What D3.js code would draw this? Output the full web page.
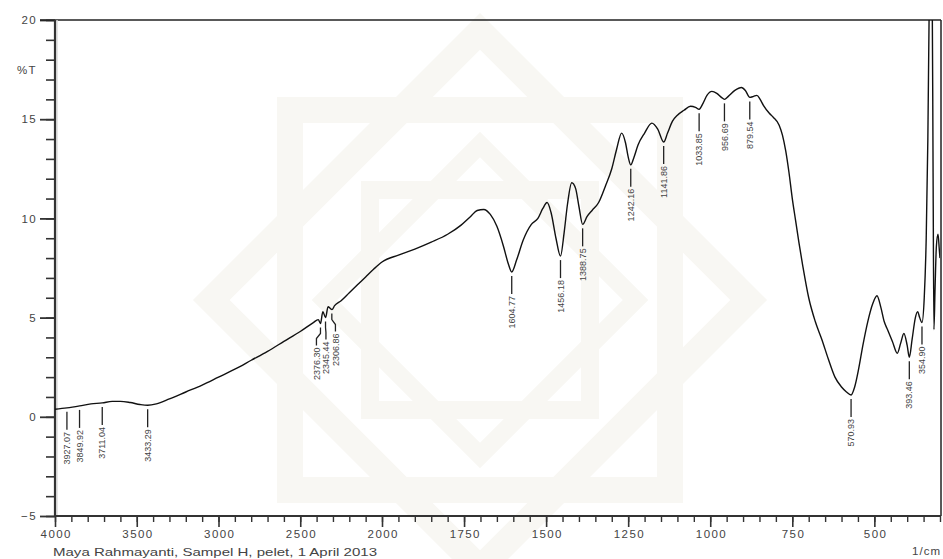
<!DOCTYPE html>
<html>
<head>
<meta charset="utf-8">
<script src="https://cdn.jsdelivr.net/npm/d3@7"></script>
<style>
  body { margin: 0; background: #fff; }
  svg { display: block; font-family: "Liberation Sans", Arial, sans-serif; }
</style>
</head>
<body>
<script>
// spectrum (wavenumber 1/cm, transmittance %T)
var wavenumber = [4000, 3927, 3849, 3780, 3711, 3650, 3600, 3540, 3480, 3433, 3380, 3300, 3200, 3100, 3000,
  2900, 2800, 2700, 2600, 2500, 2420, 2390, 2376, 2362, 2345, 2330, 2315, 2306, 2290, 2250, 2200, 2150,
  2100, 2050, 2000, 1950, 1900, 1850, 1800, 1760, 1730, 1710, 1690, 1670, 1650, 1630, 1615, 1604.77,
  1590, 1570, 1545, 1525, 1510, 1497, 1485, 1470, 1456.18, 1445, 1435, 1422, 1410, 1400, 1388.75, 1375,
  1360, 1340, 1320, 1300, 1285, 1270, 1258, 1250, 1242.16, 1232, 1220, 1200, 1178, 1160, 1141.86, 1130,
  1115, 1100, 1080, 1060, 1045, 1033.85, 1022, 1010, 995, 980, 966, 956.69, 945, 925, 905, 893, 879.54,
  868, 858, 848, 838, 820, 808, 790, 780, 770, 760, 750, 740, 730, 718, 700, 680, 660, 640, 620, 600,
  585, 570.93, 560, 548, 535, 520, 505, 492, 480, 470, 460, 445, 430, 420, 410, 400, 393.46, 385, 375,
  368, 362, 354.9, 348, 342, 337, 333, 328, 324, 321, 318.5, 315, 311, 306, 302, 300];
var transmittance = [0.38, 0.45, 0.55, 0.65, 0.7, 0.78, 0.78, 0.72, 0.62, 0.58, 0.65, 0.9, 1.25, 1.6, 2.0,
  2.4, 2.85, 3.3, 3.8, 4.3, 4.75, 4.9, 4.7, 5.3, 5.0, 5.55, 5.45, 5.4, 5.6, 5.85, 6.25, 6.65,
  7.05, 7.45, 7.8, 8.15, 8.45, 8.8, 9.2, 9.65, 10.1, 10.4, 10.45, 10.2, 9.6, 8.6, 7.7, 7.3,
  7.9, 8.9, 9.7, 10.0, 10.5, 10.8, 10.3, 9.0, 8.1, 9.3, 10.7, 11.8, 11.5, 10.6, 9.7, 10.1,
  10.4, 10.8, 11.6, 12.5, 13.5, 14.3, 13.8, 13.1, 12.7, 13.1, 13.7, 14.3, 14.8, 14.5, 13.85, 14.3,
  14.9, 15.2, 15.45, 15.65, 15.6, 15.5, 15.8, 16.2, 16.4, 16.3, 16.1, 16.0, 16.15, 16.45, 16.6, 16.45, 16.1,
  16.15, 16.2, 16.0, 15.7, 15.3, 15.1, 14.7, 14.2, 13.4, 12.3, 11.0, 9.9, 8.8, 7.6, 6.0, 4.8, 3.9, 2.9, 2.0, 1.5,
  1.25, 1.1, 1.5, 2.4, 3.6, 4.8, 5.7, 6.1, 5.5, 4.8, 4.4, 3.8, 3.2, 3.7, 4.2, 3.6, 3.0, 3.9, 5.0,
  5.3, 5.0, 4.75, 6.0, 9.0, 14.0, 20.5, 24, 22, 12, 4.4, 6.5, 8.6, 9.2, 8.4, 8.0];

// peak labels
var peaks = [3927.07, 3849.92, 3711.04, 3433.29, 2376.30, 2345.44, 2306.86, 1604.77, 1456.18, 1388.75,
  1242.16, 1141.86, 1033.85, 956.69, 879.54, 570.93, 393.46, 354.90];

// axis ticks
var xMajor = [4000, 3500, 3000, 2500, 2000, 1750, 1500, 1250, 1000, 750, 500];
var yMajor = [-5, 0, 5, 10, 15, 20];

var W = 943, H = 559;
var plotLeft = 55, plotRight = 940, plotTop = 20, plotBottom = 516;

var svg = d3.select("body").append("svg").attr("width", W).attr("height", H);

// x axis is expanded 2x below 2000 1/cm
var x = d3.scaleLinear().domain([4000, 2000, 300]).range([plotLeft, 382, plotRight]);
var y = d3.scaleLinear().domain([-5, 20]).range([plotBottom, plotTop]);

//faint watermark in the background
var wm = svg.append("g").attr("transform", "translate(480,300)")
  .style("fill", "none").style("stroke", "#f8f7f3");
[0, 45].forEach(function(a) {
  wm.append("rect").attr("x", -190).attr("y", -190).attr("width", 380).attr("height", 380)
    .attr("transform", "rotate(" + a + ")").style("stroke-width", 26);
  wm.append("rect").attr("x", -110).attr("y", -110).attr("width", 220).attr("height", 220)
    .attr("transform", "rotate(" + a + ")").style("stroke-width", 18);
});

//minor ticks
var xMinor = d3.range(4000, 2000, -100).concat(d3.range(2000, 299, -50));
svg.append("g").attr("transform", "translate(0," + plotBottom + ")")
  .call(d3.axisBottom(x).tickValues(xMinor).tickSize(6).tickSizeOuter(0).tickFormat(""))
  .call(function(g) { g.select(".domain").remove(); })
  .selectAll("line").style("stroke", "#333").style("stroke-width", 1.4);

svg.append("g").attr("transform", "translate(" + plotLeft + ",0)")
  .call(d3.axisLeft(y).tickValues(d3.range(-5, 21, 1)).tickSize(9).tickSizeOuter(0).tickFormat(""))
  .call(function(g) { g.select(".domain").remove(); })
  .selectAll("line").style("stroke", "#333").style("stroke-width", 1.6);

//major ticks with labels
var gx = svg.append("g").attr("transform", "translate(0," + plotBottom + ")")
  .call(d3.axisBottom(x).tickValues(xMajor).tickSize(11).tickSizeOuter(0).tickPadding(3).tickFormat(d3.format("d")));
gx.select(".domain").remove();
gx.selectAll("line").style("stroke", "#333").style("stroke-width", 1.6);
gx.selectAll("text").attr("dx", "0.7px").style("font-size", "11.5px").style("fill", "#444").style("letter-spacing", "1.4px");

var gy = svg.append("g").attr("transform", "translate(" + plotLeft + ",0)")
  .call(d3.axisLeft(y).tickValues(yMajor).tickSize(15).tickSizeOuter(0).tickPadding(3));
gy.select(".domain").remove();
gy.selectAll("line").style("stroke", "#333").style("stroke-width", 1.8);
gy.selectAll("text").style("font-size", "11.5px").style("fill", "#444").style("letter-spacing", "1.4px");

//frame
svg.append("line").attr("x1", 40).attr("x2", plotRight + 1).attr("y1", plotTop).attr("y2", plotTop)
  .style("stroke", "#222").style("stroke-width", 1.5);
svg.append("line").attr("x1", plotRight + 1).attr("x2", plotRight + 1).attr("y1", plotTop).attr("y2", plotBottom)
  .style("stroke", "#222").style("stroke-width", 1.5);
svg.append("line").attr("x1", plotLeft + 2).attr("x2", plotLeft + 2).attr("y1", plotTop).attr("y2", plotBottom)
  .style("stroke", "#ddd").style("stroke-width", 1.5);
svg.append("line").attr("x1", plotLeft).attr("x2", plotLeft).attr("y1", plotTop).attr("y2", plotBottom)
  .style("stroke", "#333").style("stroke-width", 2.2);
svg.append("line").attr("x1", plotLeft).attr("x2", plotRight + 1).attr("y1", plotBottom).attr("y2", plotBottom)
  .style("stroke", "#333").style("stroke-width", 2);

//clip the spectrum to the frame
svg.append("clipPath").attr("id", "clip").append("rect")
  .attr("x", plotLeft).attr("y", plotTop).attr("width", plotRight - plotLeft).attr("height", plotBottom - plotTop);

var data = wavenumber.map(function(w, i) { return { w: w, t: transmittance[i] }; });

var line = d3.line()
  .x(function(d) { return x(d.w); })
  .y(function(d) { return y(d.t); })
  .curve(d3.curveMonotoneX);

svg.append("path").datum(data)
  .attr("clip-path", "url(#clip)")
  .attr("d", line)
  .style("fill", "none").style("stroke", "#111").style("stroke-width", 1.4);

//peak labels with leader lines
function valueAt(w) {
  for (var i = 1; i < wavenumber.length; i++) {
    if (wavenumber[i] <= w) {
      var f = (wavenumber[i - 1] - w) / (wavenumber[i - 1] - wavenumber[i]);
      return transmittance[i - 1] + f * (transmittance[i] - transmittance[i - 1]);
    }
  }
  return transmittance[transmittance.length - 1];
}

var labels = peaks.map(function(p) { return { p: p, px: x(p), lx: x(p), py: y(valueAt(p)) }; });
// spread crowded labels apart
for (var it = 0; it < 30; it++) {
  for (var i = 1; i < labels.length; i++) {
    var gap = labels[i].lx - labels[i - 1].lx;
    if (gap < 9.5) {
      var m = (9.5 - gap) / 2;
      labels[i].lx += m;
      labels[i - 1].lx -= m;
    }
  }
}

var gl = svg.append("g");
labels.forEach(function(d) {
  var y0 = d.py + 4;
  gl.append("path")
    .attr("d", "M" + d.px + "," + y0 + "L" + d.px + "," + (y0 + 6) + "L" + d.lx + "," + (y0 + 11) + "L" + d.lx + "," + (y0 + 18))
    .style("fill", "none").style("stroke", "#222").style("stroke-width", 1.3);
  gl.append("text")
    .attr("transform", "translate(" + d.lx + "," + (y0 + 20) + ") rotate(-90)")
    .attr("text-anchor", "end")
    .attr("dy", "0.35em")
    .style("font-size", "9px").style("fill", "#444")
    .text(d.p.toFixed(2));
});

//axis titles and footer
svg.append("text").attr("x", 37).attr("y", 74).attr("text-anchor", "end")
  .style("font-size", "11.5px").style("fill", "#444").style("letter-spacing", "1.4px").text("%T");
svg.append("text").attr("x", plotRight + 1).attr("y", 555).attr("text-anchor", "end")
  .style("font-size", "11.5px").style("fill", "#444").style("letter-spacing", "1px").text("1/cm");
svg.append("text").attr("x", 53).attr("y", 556)
  .attr("textLength", 324).attr("lengthAdjust", "spacingAndGlyphs")
  .style("font-size", "11.5px").style("fill", "#444")
  .text("Maya Rahmayanti, Sampel H, pelet,  1 April 2013");
</script>
</body>
</html>
